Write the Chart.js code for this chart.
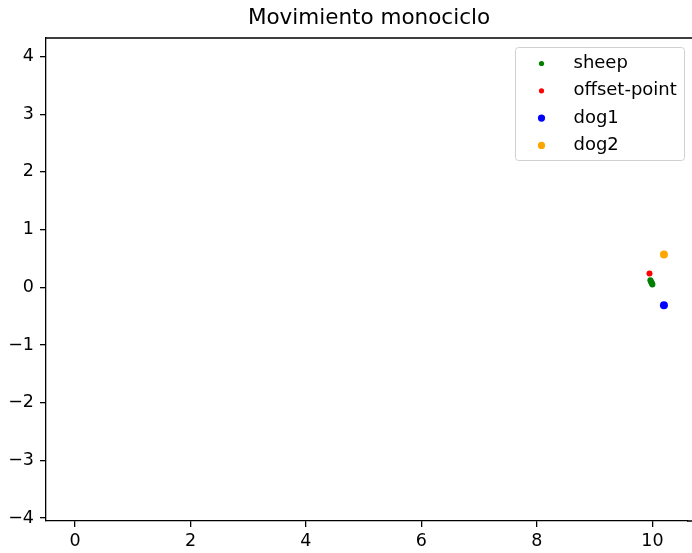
<!DOCTYPE html>
<html>
<head>
<meta charset="utf-8">
<script src="https://cdn.jsdelivr.net/npm/chart.js@4/dist/chart.umd.min.js"></script>
<style>
  html, body { margin: 0; padding: 0; background: #fff; }
  canvas { display: block; }
</style>
</head>
<body>
<canvas id="chart" width="692" height="553"></canvas>
<script>
// positions at the final frame
const sheepX = [9.965, 9.975, 9.985, 9.995, 10.0];
const sheepY = [0.12, 0.10, 0.08, 0.065, 0.05];
const offsetX = [9.95];
const offsetY = [0.24];
const dog1X = [10.2];
const dog1Y = [-0.31];
const dog2X = [10.2];
const dog2Y = [0.57];

const xTicks = [0, 2, 4, 6, 8, 10];
const yTicks = [-4, -3, -2, -1, 0, 1, 2, 3, 4];

const TITLE = 'Movimiento monociclo';
const FONT = 'DejaVu Sans';

function toPoints(xs, ys) {
  return xs.map((x, i) => ({ x, y: ys[i] }));
}

function fmt(v) {
  return v < 0 ? '\u2212' + Math.abs(v) : String(v);
}

// title centred over the axes, top/bottom spines running to the edge,
// and the legend boxed inside the plot at the upper right
const framePlugin = {
  id: 'frame',
  afterDraw(chart) {
    const { ctx, chartArea } = chart;
    ctx.save();

    ctx.font = '21.5px "' + FONT + '"';
    ctx.fillStyle = '#000';
    ctx.textAlign = 'center';
    ctx.textBaseline = 'middle';
    ctx.fillText(TITLE, (chartArea.left + chart.width) / 2, 18);

    ctx.strokeStyle = '#000';
    ctx.lineWidth = 1.3;
    ctx.beginPath();
    ctx.moveTo(chartArea.left, chartArea.top);
    ctx.lineTo(chart.width, chartArea.top);
    ctx.moveTo(chartArea.right - 1, chartArea.bottom);
    ctx.lineTo(chart.width, chartArea.bottom);
    ctx.stroke();

    const boxW = 169, boxH = 113;
    const bx = 515.5, by = chartArea.top + 9.5;
    ctx.lineWidth = 1;
    ctx.beginPath();
    ctx.roundRect(bx, by, boxW, boxH, 3);
    ctx.fillStyle = 'rgba(255,255,255,0.8)';
    ctx.fill();
    ctx.strokeStyle = '#d0d0d0';
    ctx.stroke();

    ctx.font = '18px "' + FONT + '"';
    ctx.textAlign = 'left';
    chart.data.datasets.forEach((ds, i) => {
      const cy = by + 16 + i * 27.3;
      ctx.beginPath();
      ctx.arc(bx + 26, cy, ds.legendRadius, 0, Math.PI * 2);
      ctx.fillStyle = ds.backgroundColor;
      ctx.fill();
      ctx.fillStyle = '#000';
      ctx.fillText(ds.label, bx + 58, cy);
    });
    ctx.restore();
  }
};

new Chart(document.getElementById('chart'), {
  type: 'scatter',
  data: {
    datasets: [
      { label: 'sheep', data: toPoints(sheepX, sheepY), backgroundColor: '#008000', borderColor: '#008000', pointRadius: 3, borderWidth: 0, legendRadius: 2.6 },
      { label: 'offset-point', data: toPoints(offsetX, offsetY), backgroundColor: '#ff0000', borderColor: '#ff0000', pointRadius: 3, borderWidth: 0, legendRadius: 2.6 },
      { label: 'dog1', data: toPoints(dog1X, dog1Y), backgroundColor: '#0000ff', borderColor: '#0000ff', pointRadius: 4, borderWidth: 0, legendRadius: 3.6 },
      { label: 'dog2', data: toPoints(dog2X, dog2Y), backgroundColor: '#ffa500', borderColor: '#ffa500', pointRadius: 4, borderWidth: 0, legendRadius: 3.6 }
    ]
  },
  options: {
    responsive: false,
    animation: false,
    layout: { padding: { top: 38, left: 0, right: 0, bottom: 0 } },
    plugins: {
      legend: { display: false },
      tooltip: { enabled: false },
      title: { display: false }
    },
    scales: {
      x: {
        type: 'linear',
        min: -0.502,
        max: 10.617,
        afterFit: s => { s.height = 32; },
        afterBuildTicks: s => { s.ticks = xTicks.map(v => ({ value: v })); },
        grid: { drawOnChartArea: false, drawTicks: true, tickLength: 6, color: '#000', lineWidth: 1.3 },
        border: { display: true, color: '#000', width: 1.3 },
        ticks: { color: '#000', font: { family: FONT, size: 17.5 }, padding: 4, callback: fmt, maxRotation: 0 }
      },
      y: {
        type: 'linear',
        min: -4.05,
        max: 4.32,
        afterFit: s => { s.width = 46; },
        afterBuildTicks: s => { s.ticks = yTicks.map(v => ({ value: v })); },
        grid: { drawOnChartArea: false, drawTicks: true, tickLength: 6, color: '#000', lineWidth: 1.3 },
        border: { display: true, color: '#000', width: 1.3 },
        ticks: { color: '#000', font: { family: FONT, size: 17.5 }, padding: 6, callback: fmt }
      }
    }
  },
  plugins: [framePlugin]
});
</script>
</body>
</html>
